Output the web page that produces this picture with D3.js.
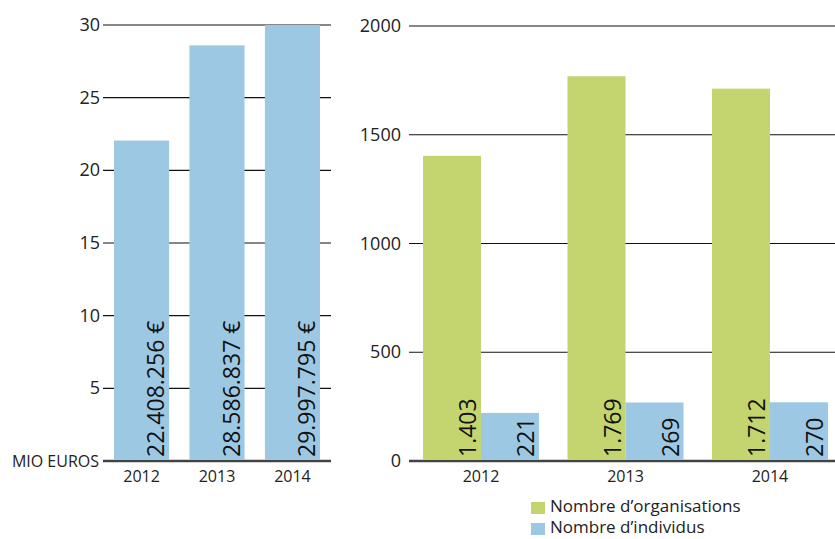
<!DOCTYPE html>
<html>
<head>
<meta charset="utf-8">
<script src="https://cdn.jsdelivr.net/npm/d3@7"></script>
<style>
  body { margin: 0; background: #fff; }
  svg { font-family: "Open Sans", sans-serif; }
</style>
</head>
<body>
<svg id="chart" width="835" height="539"></svg>
<script>
// data
const years = ["2012", "2013", "2014"];
const euros = [22.05, 28.6, 29.998];            // mio euros, bar heights
const euroLabels = ["22.408.256 €", "28.586.837 €", "29.997.795 €"];
const orgs = [1403, 1769, 1712];
const orgLabels = ["1.403", "1.769", "1.712"];
const indiv = [221, 269, 270];
const indivLabels = ["221", "269", "270"];
const leftTicks = [0, 5, 10, 15, 20, 25, 30];
const rightTicks = [0, 500, 1000, 1500, 2000];
const seriesNames = ["Nombre d’organisations", "Nombre d’individus"];

const blue = "#9dc8e3", green = "#c4d570";
const svg = d3.select("#chart");

// ---------- left chart ----------
const yL = d3.scaleLinear().domain([0, 30]).range([461, 25]);
const xL = d3.scaleBand().domain(years).range([114, 320]).paddingInner(0.27).paddingOuter(0);

const gl = svg.append("g");
gl.selectAll(".grid").data(leftTicks).enter().append("line")
  .attr("x1", 103).attr("x2", 331)
  .attr("y1", d => yL(d)).attr("y2", d => yL(d))
  .attr("stroke", d => d === 0 ? "#444" : "#111")
  .attr("stroke-width", d => d === 0 ? 2.5 : 1.2);

gl.selectAll(".bar").data(euros).enter().append("rect")
  .attr("x", (d, i) => xL(years[i]))
  .attr("width", xL.bandwidth())
  .attr("y", d => yL(d))
  .attr("height", d => yL(0) - yL(d) - 1)
  .attr("fill", blue);

gl.selectAll(".tick").data(leftTicks.filter(d => d > 0)).enter().append("text")
  .attr("x", 100).attr("y", d => yL(d) + 6)
  .attr("text-anchor", "end").attr("font-size", 18).attr("fill", "#222")
  .text(d => d);
gl.append("text").attr("x", 99).attr("y", yL(0) + 6)
  .attr("text-anchor", "end").attr("font-size", 16).attr("fill", "#222")
  .text("MIO EUROS");

gl.selectAll(".xlab").data(years).enter().append("text")
  .attr("x", d => xL(d) + xL.bandwidth() / 2).attr("y", 482)
  .attr("text-anchor", "middle").attr("font-size", 16).attr("fill", "#222")
  .text(d => d);

gl.selectAll(".val").data(euroLabels).enter().append("text")
  .attr("transform", (d, i) => `translate(${xL(years[i]) + xL.bandwidth() - 5},457) rotate(-90)`)
  .attr("font-size", 23).attr("fill", "#111")
  .text(d => d);

// ---------- right chart ----------
const yR = d3.scaleLinear().domain([0, 2000]).range([461, 26]);
const x0 = d3.scaleBand().domain(years).range([423, 828]).paddingInner(0.197).paddingOuter(0);
const x1 = d3.scaleBand().domain([0, 1]).range([0, x0.bandwidth()]);

const gr = svg.append("g");
gr.selectAll(".grid").data(rightTicks).enter().append("line")
  .attr("x1", 409).attr("x2", 835)
  .attr("y1", d => yR(d)).attr("y2", d => yR(d))
  .attr("stroke", d => d === 0 ? "#444" : "#111")
  .attr("stroke-width", d => d === 0 ? 2.5 : 1.2);

const groups = gr.selectAll(".grp").data(years).enter().append("g")
  .attr("transform", d => `translate(${x0(d)},0)`);

groups.append("rect")
  .attr("x", x1(0)).attr("width", x1.bandwidth())
  .attr("y", (d, i) => yR(orgs[i]))
  .attr("height", (d, i) => yR(0) - yR(orgs[i]) - 1)
  .attr("fill", green);
groups.append("rect")
  .attr("x", x1(1)).attr("width", x1.bandwidth())
  .attr("y", (d, i) => yR(indiv[i]))
  .attr("height", (d, i) => yR(0) - yR(indiv[i]) - 1)
  .attr("fill", blue);

groups.append("text")
  .attr("transform", `translate(${x1(0) + x1.bandwidth() - 5},457) rotate(-90)`)
  .attr("font-size", 23).attr("fill", "#111")
  .text((d, i) => orgLabels[i]);
groups.append("text")
  .attr("transform", `translate(${x1(1) + x1.bandwidth() - 5},457) rotate(-90)`)
  .attr("font-size", 23).attr("fill", "#111")
  .text((d, i) => indivLabels[i]);

groups.append("text")
  .attr("x", x0.bandwidth() / 2).attr("y", 482)
  .attr("text-anchor", "middle").attr("font-size", 16).attr("fill", "#222")
  .text(d => d);

gr.selectAll(".tick").data(rightTicks).enter().append("text")
  .attr("x", 401).attr("y", d => yR(d) + 6)
  .attr("text-anchor", "end").attr("font-size", 18).attr("fill", "#222")
  .text(d => d);

// legend
const leg = svg.append("g").selectAll("g").data(seriesNames).enter().append("g")
  .attr("transform", (d, i) => `translate(531,${502 + i * 21})`);
leg.append("rect").attr("width", 14).attr("height", 12)
  .attr("fill", (d, i) => i === 0 ? green : blue);
leg.append("text").attr("x", 19).attr("y", 10)
  .attr("font-size", 17).attr("fill", "#222")
  .text(d => d);
</script>
</body>
</html>
